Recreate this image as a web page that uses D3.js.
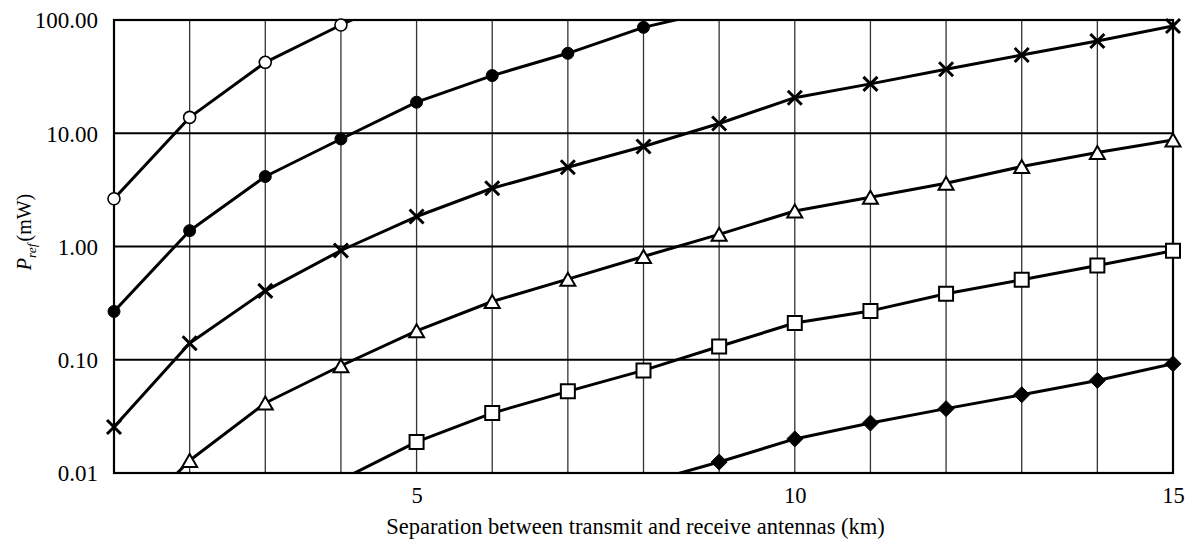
<!DOCTYPE html>
<html><head><meta charset="utf-8">
<script src="https://cdn.jsdelivr.net/npm/d3@7"></script>
<style>
body{margin:0;background:#fff}
svg text{font-family:"Liberation Serif","Times New Roman",serif;fill:#000}
</style>
</head><body>
<svg id="chart" width="1195" height="556"></svg>
<script>
// ---- data ----
const distancesKm = [1,2,3,4,5,6,7,8,9,10,11,12,13,14,15];
// values outside the visible 0.01–100 range are estimated only so the lines leave the frame correctly
const seriesOpenCircle   = [2.64, 13.8, 42.3, 90.3, 185, null, null, null, null, null, null, null, null, null, null];
const seriesFilledCircle = [0.267, 1.38, 4.15, 8.9, 18.8, 32.3, 50.8, 86.1, 123, null, null, null, null, null, null];
const seriesCross        = [0.0255, 0.140, 0.406, 0.922, 1.84, 3.27, 5.01, 7.63, 12.2, 20.6, 27.3, 36.7, 49.1, 65.3, 88.5];
const seriesTriangle     = [0.0027, 0.0129, 0.0415, 0.0885, 0.180, 0.327, 0.515, 0.816, 1.28, 2.06, 2.72, 3.62, 5.08, 6.75, 8.73];
const seriesSquare       = [null, null, null, 0.0087, 0.0188, 0.0338, 0.0526, 0.0805, 0.131, 0.211, 0.270, 0.382, 0.508, 0.679, 0.916];
const seriesDiamond      = [null, null, null, null, null, null, null, 0.0081, 0.0125, 0.0200, 0.0276, 0.0370, 0.0491, 0.0657, 0.0922];

const yTickValues = [0.01, 0.1, 1, 10, 100];
const yTickLabels = ["0.01", "0.10", "1.00", "10.00", "100.00"];
const xTickValues = [5, 10, 15];
const xTickLabels = ["5", "10", "15"];
const xGridValues = [2,3,4,5,6,7,8,9,10,11,12,13,14];
const xTitle = "Separation between transmit and receive antennas (km)";

// ---- layout ----
const L = 114, R = 1173, T = 20, B = 473;
const svg = d3.select("#chart");
const x = d3.scaleLinear().domain([1, 15]).range([L, R]);
const y = d3.scaleLog().domain([0.01, 100]).range([B, T]);

svg.append("defs").append("clipPath").attr("id", "plotClip")
  .append("rect").attr("x", L).attr("y", T).attr("width", R - L).attr("height", B - T);

// vertical grid
svg.append("g").selectAll("line").data(xGridValues).join("line")
  .attr("x1", d => x(d)).attr("x2", d => x(d)).attr("y1", T).attr("y2", B)
  .attr("stroke", "#333").attr("stroke-width", 1.3);

// horizontal grid
svg.append("g").selectAll("line").data(yTickValues).join("line")
  .attr("x1", L).attr("x2", R).attr("y1", d => y(d)).attr("y2", d => y(d))
  .attr("stroke", "#000").attr("stroke-width", 2);

// frame
svg.append("rect").attr("x", L).attr("y", T).attr("width", R - L).attr("height", B - T)
  .attr("fill", "none").attr("stroke", "#000").attr("stroke-width", 2.2);

// y axis via d3 axis (labels only)
const yAxis = d3.axisLeft(y).tickValues(yTickValues)
  .tickFormat((d, i) => yTickLabels[i]).tickSize(0).tickPadding(16);
const gy = svg.append("g").attr("transform", `translate(${L},0)`).call(yAxis);
gy.select(".domain").remove();
gy.selectAll("text").style("font-size", "23px").attr("dy", "0.34em");

// x axis labels
const xAxis = d3.axisBottom(x).tickValues(xTickValues)
  .tickFormat((d, i) => xTickLabels[i]).tickSize(0).tickPadding(14);
const gx = svg.append("g").attr("transform", `translate(0,${B})`).call(xAxis);
gx.select(".domain").remove();
gx.selectAll("text").style("font-size", "22.5px").attr("dy", "0.71em");

// x title
svg.append("text").attr("x", (L + R) / 2 - 8).attr("y", 534)
  .attr("text-anchor", "middle").style("font-size", "22.5px").text(xTitle);

// y title
const yt = svg.append("text").attr("transform", `translate(31,232) rotate(-90)`)
  .attr("text-anchor", "middle").style("font-size", "20px");
yt.append("tspan").style("font-style", "italic").text("P");
yt.append("tspan").style("font-style", "italic").style("font-size", "13.5px").attr("dy", 5).text("ref");
yt.append("tspan").attr("dy", -5).attr("dx", 2).text("(mW)");

// ---- series ----
const symCross = { draw(ctx, size) { const s = 7; ctx.moveTo(-s, -s); ctx.lineTo(s, s); ctx.moveTo(-s, s); ctx.lineTo(s, -s); } };
const symTri = { draw(ctx, size) { ctx.moveTo(0, -6.5); ctx.lineTo(7.5, 6.5); ctx.lineTo(-7.5, 6.5); ctx.closePath(); } };
const symSq = { draw(ctx, size) { ctx.rect(-7, -7, 14, 14); } };
const symDia = { draw(ctx, size) { ctx.moveTo(0, -8); ctx.lineTo(8, 0); ctx.lineTo(0, 8); ctx.lineTo(-8, 0); ctx.closePath(); } };
const symCirc = { draw(ctx, size) { ctx.moveTo(6, 0); ctx.arc(0, 0, 6, 0, 2 * Math.PI); } };

const series = [
  { values: seriesOpenCircle,   sym: symCirc,  fill: "#fff", sw: 1.6 },
  { values: seriesFilledCircle, sym: symCirc,  fill: "#000", sw: 1 },
  { values: seriesCross,        sym: symCross, fill: "none", sw: 3 },
  { values: seriesTriangle,     sym: symTri,   fill: "#fff", sw: 2 },
  { values: seriesSquare,       sym: symSq,    fill: "#fff", sw: 2 },
  { values: seriesDiamond,      sym: symDia,   fill: "#000", sw: 1 }
];

const line = d3.line().defined(d => d[1] != null).x(d => x(d[0])).y(d => y(d[1]));
const linesG = svg.append("g").attr("clip-path", "url(#plotClip)");
const marksG = svg.append("g");

series.forEach(s => {
  const pts = distancesKm.map((k, i) => [k, s.values[i]]);
  linesG.append("path").datum(pts).attr("d", line)
    .attr("fill", "none").attr("stroke", "#000").attr("stroke-width", 3).attr("stroke-linejoin", "round");
  marksG.append("g").selectAll("path")
    .data(pts.filter(p => p[1] != null && p[1] >= 0.01 && p[1] <= 100))
    .join("path")
    .attr("transform", p => `translate(${x(p[0])},${y(p[1])})`)
    .attr("d", d3.symbol().type(s.sym))
    .attr("fill", s.fill).attr("stroke", "#000").attr("stroke-width", s.sw);
});
</script>
</body></html>
